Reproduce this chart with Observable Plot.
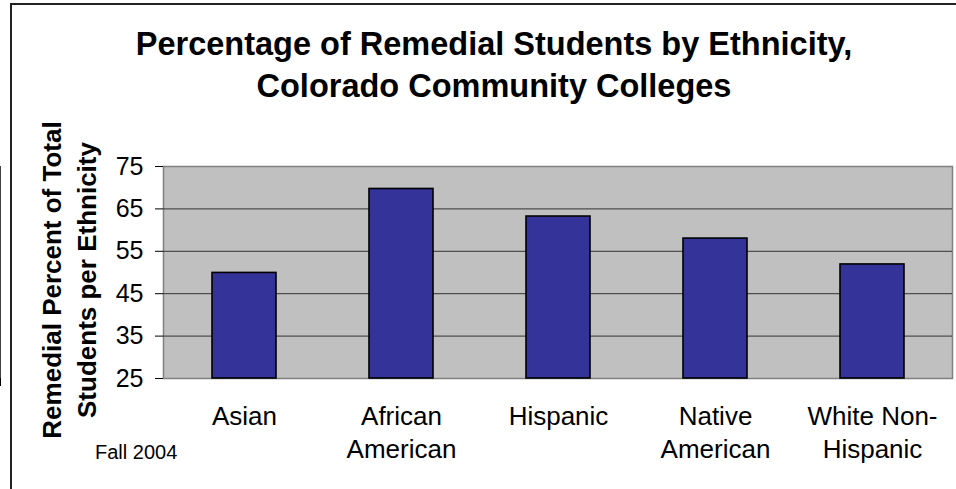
<!DOCTYPE html>
<html>
<head>
<meta charset="utf-8">
<script src="https://cdn.jsdelivr.net/npm/d3@7"></script>
<script src="https://cdn.jsdelivr.net/npm/@observablehq/plot@0.6"></script>
<style>
  html, body { margin: 0; padding: 0; background: #fff; }
  #wrap { position: relative; width: 956px; height: 489px; overflow: hidden; font-family: "Liberation Sans", Arial, sans-serif; color: #000; background: #fff; }
  #title { position: absolute; left: 0; top: 23px; width: 988px; text-align: center; font-weight: bold; font-size: 32.5px; line-height: 42px; }
  #ylabel { position: absolute; left: -130px; top: 245px; width: 400px; height: 70px; text-align: center; font-weight: bold; font-size: 26px; line-height: 35px; transform: rotate(-90deg); transform-origin: 50% 50%; white-space: nowrap; }
  #note { position: absolute; left: 95px; top: 441px; font-size: 20px; line-height: 23px; white-space: nowrap; }
  #chart { position: absolute; left: 0; top: 0; width: 956px; height: 489px; }
  #chart svg { display: block; background: transparent; }
  #edgeL { position: absolute; left: 10px; top: 3px; width: 2px; height: 490px; background: #222; }
  #edgeT { position: absolute; left: 10px; top: 3px; width: 950px; height: 2px; background: #222; }
</style>
</head>
<body>
<div id="wrap">
  <div id="chart"></div>
  <div id="title"></div>
  <div id="ylabel"></div>
  <div id="note"></div>
  <div id="edgeL"></div>
  <div id="edgeT"></div>
</div>
<script>
const titleLines = ["Percentage of Remedial Students by Ethnicity,", "Colorado Community Colleges"];
const yLabelLines = ["Remedial Percent of Total", "Students per Ethnicity"];
const noteText = "Fall 2004";
const categories = ["Asian", "African American", "Hispanic", "Native American", "White Non-Hispanic"];
const categoryLabels = ["Asian", "African\nAmerican", "Hispanic", "Native\nAmerican", "White Non-\nHispanic"];
const values = [49.9, 69.7, 63.2, 58.0, 51.9];
const yTicks = [25, 35, 45, 55, 65, 75];
const yBase = yTicks[0];

const data = categories.map((c, i) => ({category: c, value: values[i]}));
const labelOf = new Map(categories.map((c, i) => [c, categoryLabels[i]]));

function axisFrame(index, scales, vals, dimensions) {
  const x = scales.x, y = scales.y;
  const bw = x.bandwidth || 0;
  const step = x(categories[1]) - x(categories[0]);
  const g = d3.create("svg:g").attr("stroke", "#000").attr("fill", "none");
  const yb = y(yBase), yt = y(yTicks[yTicks.length - 1]);
  const bounds = [];
  categories.forEach((c, i) => {
    const center = x(c) + bw / 2;
    if (i === 0) bounds.push(center - step / 2);
    bounds.push(center + step / 2);
  });
  bounds.forEach(b => {
    g.append("line").attr("x1", b).attr("x2", b).attr("y1", yb).attr("y2", yb + 8).attr("stroke-width", 1.2);
  });
  g.append("line").attr("x1", bounds[0]).attr("x2", bounds[0]).attr("y1", yt).attr("y2", yb).attr("stroke-width", 1.5);
  g.append("line").attr("x1", bounds[0]).attr("x2", bounds[bounds.length - 1]).attr("y1", yb).attr("y2", yb).attr("stroke-width", 1.5);
  return g.node();
}

const plot = Plot.plot({
  width: 956,
  height: 489,
  marginLeft: 163,
  marginRight: 4,
  marginTop: 166,
  marginBottom: 111,
  style: {fontFamily: "'Liberation Sans', Arial, sans-serif", background: "transparent", color: "#000", overflow: "visible"},
  x: {domain: categories, paddingInner: 0.595, paddingOuter: 0.2975, label: null},
  y: {domain: [yBase, yTicks[yTicks.length - 1]], label: null},
  marks: [
    Plot.frame({fill: "#C0C0C0", stroke: "#808080", strokeWidth: 1.5}),
    Plot.gridY(yTicks.slice(1, -1), {stroke: "#333", strokeOpacity: 1, strokeWidth: 1}),
    Plot.barY(data, {x: "category", y1: yBase, y2: "value", fill: "#333399", stroke: "#000", strokeWidth: 1.6}),
    Plot.axisY(yTicks, {tickSize: 8, tickPadding: 12, fontSize: 25, label: null, tickFormat: d => String(d)}),
    Plot.axisX({tickSize: 0, tickPadding: 23, fontSize: 26, lineHeight: 1.27, label: null, tickFormat: d => labelOf.get(d)}),
    axisFrame
  ]
});

document.getElementById("chart").appendChild(plot);
document.getElementById("title").innerHTML = titleLines.join("<br>");
document.getElementById("ylabel").innerHTML = yLabelLines.join("<br>");
document.getElementById("note").textContent = noteText;
</script>
</body>
</html>
